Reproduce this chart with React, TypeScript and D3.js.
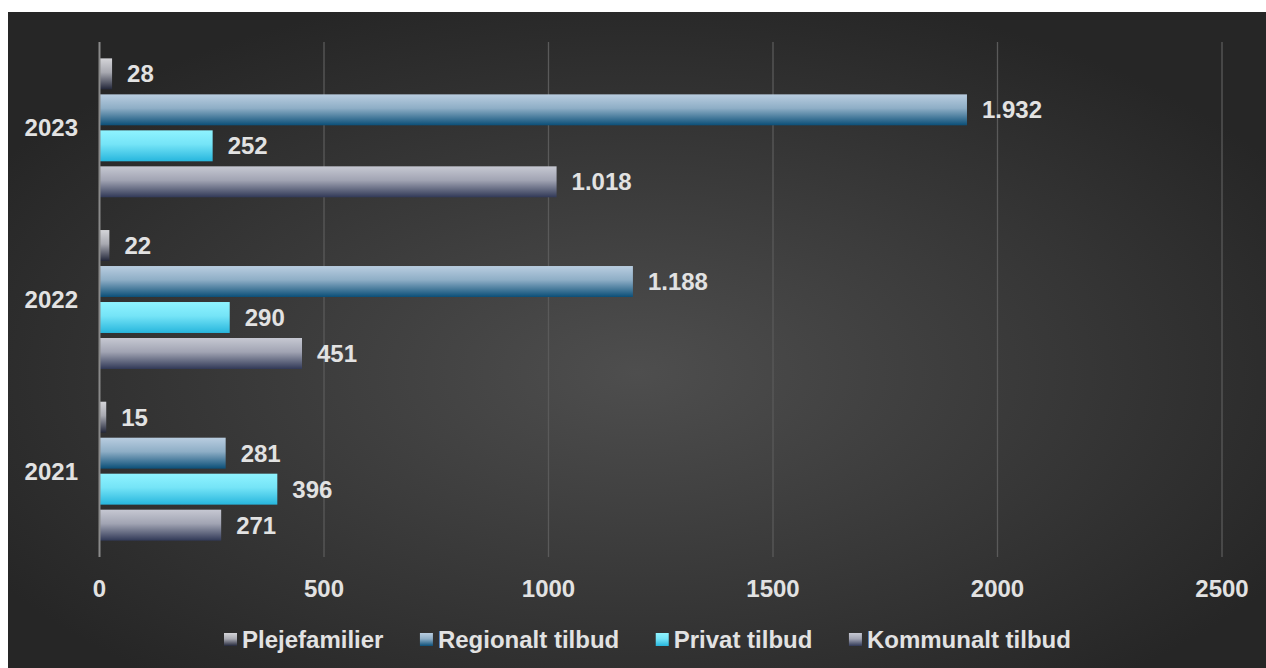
import React, { useEffect, useRef } from "react";
import * as d3 from "d3";

const years = ["2023", "2022", "2021"];
const seriesNames = ["Plejefamilier", "Regionalt tilbud", "Privat tilbud", "Kommunalt tilbud"];
const plejefamilier = [28, 22, 15];
const regionalt = [1932, 1188, 281];
const privat = [252, 290, 396];
const kommunalt = [1018, 451, 271];
const xTicks = [0, 500, 1000, 1500, 2000, 2500];

const seriesValues = [plejefamilier, regionalt, privat, kommunalt];
const gradStops: [string, string][] = [
  ["#d4d4d8", "#23273a"],
  ["#b9cde0", "#0b4f78"],
  ["#8ff3ff", "#27b6dd"],
  ["#c6c8d2", "#313957"],
];

export default function App() {
  const ref = useRef<SVGSVGElement>(null);
  useEffect(() => {
    const svg = d3.select(ref.current);
    svg.selectAll("*").remove();
    const W = 1266, H = 668;
    const font = "'Liberation Sans', Arial, sans-serif";
    const txt = "#e2e2e2";
    const defs = svg.append("defs");
    const bg = defs.append("radialGradient").attr("id", "bg")
      .attr("cx", "50%").attr("cy", "55%").attr("r", "60%");
    bg.append("stop").attr("offset", "0%").attr("stop-color", "#4e4e4e");
    bg.append("stop").attr("offset", "100%").attr("stop-color", "#262626");
    gradStops.forEach((s, i) => {
      const g = defs.append("linearGradient").attr("id", "g" + i)
        .attr("x1", 0).attr("y1", 0).attr("x2", 0).attr("y2", 1);
      g.append("stop").attr("offset", "0%").attr("stop-color", s[0]);
      g.append("stop").attr("offset", "45%").attr("stop-color", d3.interpolateRgb(s[0], s[1])(0.25));
      g.append("stop").attr("offset", "100%").attr("stop-color", s[1]);
    });

    svg.append("rect").attr("x", 8).attr("y", 12).attr("width", W - 8).attr("height", H - 12)
      .attr("fill", "url(#bg)");

    const x = d3.scaleLinear().domain([0, 2500]).range([99.5, 1222]);
    const y = d3.scaleBand().domain(years).range([42, 557]).paddingInner(0).paddingOuter(0);
    const inner = d3.scaleBand().domain(seriesNames.map((_, i) => String(i)))
      .range([0, y.bandwidth()]).paddingInner(0.14).paddingOuter(0.455);

    // grid
    svg.append("g").selectAll("line").data(xTicks.slice(1)).join("line")
      .attr("x1", (d) => x(d)).attr("x2", (d) => x(d))
      .attr("y1", 42).attr("y2", 557)
      .attr("stroke", "#5a5a5a").attr("stroke-width", 1.3);

    // bars
    const fmt = (v: number) => d3.format(",")(v).replace(/,/g, ".");
    seriesValues.forEach((vals, si) => {
      const g = svg.append("g");
      years.forEach((yr, yi) => {
        const v = vals[yi];
        const by = (y(yr) as number) + (inner(String(si)) as number);
        g.append("rect").attr("x", x(0)).attr("y", by)
          .attr("width", x(v) - x(0)).attr("height", inner.bandwidth())
          .attr("fill", `url(#g${si})`);
        g.append("text").attr("x", x(v) + 15).attr("y", by + inner.bandwidth() / 2)
          .attr("dy", "0.36em").attr("fill", txt).attr("font-family", font)
          .attr("font-weight", "bold").attr("font-size", 24).text(fmt(v));
      });
    });

    // axis line
    svg.append("line").attr("x1", x(0)).attr("x2", x(0)).attr("y1", 42).attr("y2", 557)
      .attr("stroke", "#8a8a8a").attr("stroke-width", 2);

    // x tick labels
    svg.append("g").selectAll("text").data(xTicks).join("text")
      .attr("x", (d) => x(d)).attr("y", 588).attr("dy", "0.36em")
      .attr("text-anchor", "middle").attr("fill", txt).attr("font-family", font)
      .attr("font-weight", "bold").attr("font-size", 24).text((d) => String(d));

    // y labels
    svg.append("g").selectAll("text").data(years).join("text")
      .attr("x", 78).attr("y", (d) => (y(d) as number) + y.bandwidth() / 2)
      .attr("dy", "0.36em").attr("text-anchor", "end").attr("fill", txt)
      .attr("font-family", font).attr("font-weight", "bold").attr("font-size", 24)
      .text((d) => d);

    // legend
    const lg = svg.append("g");
    let cx = 224;
    seriesNames.forEach((name, i) => {
      lg.append("rect").attr("x", cx).attr("y", 633).attr("width", 13).attr("height", 13)
        .attr("fill", `url(#g${i})`);
      const t = lg.append("text").attr("x", cx + 18).attr("y", 639.5).attr("dy", "0.36em")
        .attr("fill", txt).attr("font-family", font).attr("font-weight", "bold")
        .attr("font-size", 24).text(name);
      const w = (t.node() as SVGTextElement).getComputedTextLength();
      cx = cx + 18 + w + 36.5;
    });
  }, []);
  return (
    <svg ref={ref} width={1266} height={668}
      style={{ position: "absolute", left: 0, top: 0, display: "block" }} />
  );
}
